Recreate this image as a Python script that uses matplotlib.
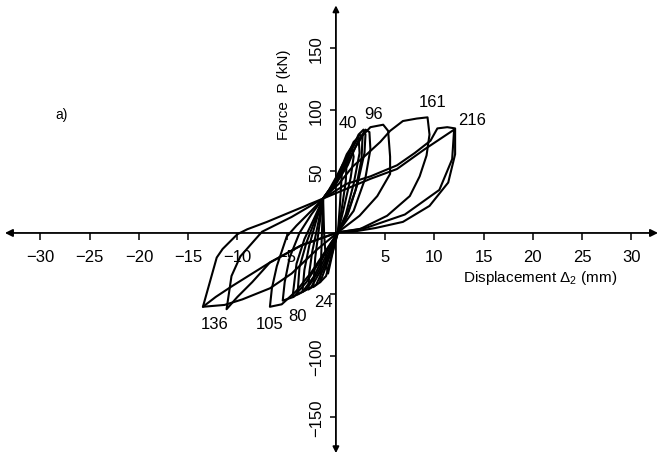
import numpy as np
import matplotlib; matplotlib.use("Agg")
import matplotlib.pyplot as plt

plt.rcParams['font.family'] = ['Liberation Sans', 'DejaVu Sans']
plt.rcParams['mathtext.fontset'] = 'custom'
plt.rcParams['mathtext.rm'] = 'Liberation Sans'
plt.rcParams['mathtext.it'] = 'Liberation Sans:italic'

# ---- data: hysteresis half-cycles, displacement (mm) / force (kN) ----
# positive half-cycles: origin -> positive peak -> back to the pinch point near (-1.3, 28)
pos_216_x = [0.2, 1.7, 4.0, 6.8, 9.5, 11.4, 12.1, 12.1, 11.3, 10.3, 9.6, 8.0, 6.2, 3.5, 1.1, -1.3]
pos_216_y = [0.5, 1.0, 4.0, 9.0, 22, 41, 64, 85, 86, 85, 75, 65, 55, 46, 40, 28]
pos_216b_x = [0.2, 3.0, 7.0, 10.5, 11.8, 12.0, 9.0, 6.2, 3.5, 1.7, -1.3]
pos_216b_y = [0.5, 4.0, 15, 35, 60, 84, 68, 52, 44, 38, 28]
pos_161_x = [0.2, 2.4, 5.2, 7.5, 8.5, 9.2, 9.5, 9.3, 8.2, 6.8, 5.5, 4.5, 3.0, 1.7, 0.3, -1.3]
pos_161_y = [0.5, 3.0, 14, 30, 46, 63, 80, 94, 93, 91, 83, 74, 63, 54, 40, 28]
pos_96_x = [0.2, 2.4, 4.2, 5.5, 5.5, 5.3, 4.8, 3.5, 2.8, 2.0, 1.0, 0.0, -1.3]
pos_96_y = [0.5, 14, 30, 48, 62, 83, 88, 86, 80, 70, 55, 40, 28]
pos_64_x = [0.2, 1.8, 3.0, 3.5, 3.4, 3.0, 2.2, 1.2, 0.0, -1.3]
pos_64_y = [0.5, 18, 45, 68, 82, 84, 74, 55, 40, 28]
pos_40_x = [0.2, 1.2, 2.2, 2.9, 3.0, 2.8, 2.3, 1.5, 0.5, -0.5, -1.3]
pos_40_y = [0.5, 15, 40, 65, 80, 84, 80, 66, 48, 36, 28]
pos_36_x = [0.2, 1.0, 2.0, 2.6, 2.7, 2.4, 1.6, 0.6, -0.4, -1.3]
pos_36_y = [0.5, 12, 35, 60, 78, 80, 68, 50, 38, 28]
pos_32_x = [0.2, 1.0, 1.8, 2.4, 2.3, 1.8, 1.0, 0.0, -1.3]
pos_32_y = [0.5, 15, 40, 65, 78, 74, 60, 42, 28]
pos_20_x = [0.2, 0.8, 1.5, 1.8, 1.6, 1.1, 0.4, -0.4, -1.3]
pos_20_y = [0.5, 20, 45, 62, 70, 64, 50, 38, 28]
pos_12_x = [0.2, 0.6, 1.0, 1.1, 0.7, 0.0, -0.7, -1.3]
pos_12_y = [0.5, 20, 42, 60, 56, 45, 35, 28]
pos_6_x = [0.2, 0.4, 0.6, 0.3, -0.4, -1.3]
pos_6_y = [0.5, 22, 48, 46, 36, 28]

# negative half-cycles: pinch point -> negative peak -> back to origin
neg_136_x = [-1.3, -4.0, -7.0, -9.0, -10.0, -11.5, -12.1, -12.8, -13.5, -11.3, -9.5, -6.7, -4.5, -2.0, 0.2]
neg_136_y = [28, 19, 9, 3, -1, -13, -20, -40, -60, -58.5, -54, -45, -33, -14, 0.5]
neg_125_x = [-1.3, -4.5, -7.5, -9.7, -10.6, -11.1, -10.0, -8.5, -6.7, -3.5, 0.2]
neg_125_y = [28, 13, 1, -19, -35, -62, -52, -40, -24, -10, 0.5]
neg_136b_x = [-13.5, -12.2, -10.5, -6.7, -3.5, 0.2]
neg_136b_y = [-60, -52, -43, -24, -10, 0.5]
neg_105_x = [-1.3, -2.5, -4.0, -5.0, -6.0, -6.5, -6.7, -5.5, -4.0, -2.5, -1.0, 0.2]
neg_105_y = [28, 18, 6, -3, -27, -45, -60, -58, -47, -32, -14, 0.5]
neg_90_x = [-1.3, -2.5, -3.7, -4.7, -5.2, -5.4, -4.3, -3.0, -1.8, -0.6, 0.2]
neg_90_y = [28, 15, 0, -20, -40, -55, -52, -40, -25, -10, 0.5]
neg_80_x = [-1.3, -2.2, -3.2, -4.0, -4.4, -3.4, -2.2, -1.2, 0.2]
neg_80_y = [28, 12, -5, -25, -52, -48, -35, -18, 0.5]
neg_70_x = [-1.3, -2.1, -3.0, -3.7, -3.9, -3.0, -1.9, -0.9, 0.2]
neg_70_y = [28, 11, -8, -28, -50, -46, -33, -17, 0.5]
neg_60_x = [-1.3, -2.0, -2.7, -3.2, -3.4, -2.5, -1.5, -0.6, 0.2]
neg_60_y = [28, 10, -10, -30, -48, -44, -30, -15, 0.5]
neg_50_x = [-1.3, -1.8, -2.4, -2.7, -2.8, -2.0, -1.2, 0.2]
neg_50_y = [28, 8, -15, -32, -46, -42, -28, 0.5]
neg_40_x = [-1.3, -1.7, -2.1, -2.3, -1.6, -0.9, 0.2]
neg_40_y = [28, 5, -20, -44, -40, -25, 0.5]
neg_24_x = [-1.3, -1.4, -1.5, -1.6, -1.0, -0.5, 0.2]
neg_24_y = [28, 5, -20, -40, -35, -20, 0.5]
neg_10_x = [-1.3, -1.2, -1.0, -0.8, -0.3, 0.2]
neg_10_y = [28, 0, -25, -33, -15, 0.5]

loops = [(pos_216_x, pos_216_y), (pos_216b_x, pos_216b_y), (pos_161_x, pos_161_y),
         (pos_96_x, pos_96_y), (pos_64_x, pos_64_y), (pos_40_x, pos_40_y),
         (pos_36_x, pos_36_y), (pos_32_x, pos_32_y), (pos_20_x, pos_20_y),
         (pos_12_x, pos_12_y), (pos_6_x, pos_6_y),
         (neg_136_x, neg_136_y), (neg_125_x, neg_125_y), (neg_136b_x, neg_136b_y),
         (neg_105_x, neg_105_y), (neg_90_x, neg_90_y), (neg_80_x, neg_80_y),
         (neg_70_x, neg_70_y), (neg_60_x, neg_60_y), (neg_50_x, neg_50_y),
         (neg_40_x, neg_40_y), (neg_24_x, neg_24_y), (neg_10_x, neg_10_y)]

# cycle numbers written next to the peaks
cycle_labels = ["40", "96", "161", "216", "136", "105", "80", "24"]
cycle_x = [1.2, 3.8, 9.8, 13.8, -12.3, -6.7, -3.9, -1.3]
cycle_y = [90, 97.5, 106.5, 92, -74, -74, -67.5, -56]

x_ticks = [-30, -25, -20, -15, -10, -5, 5, 10, 15, 20, 25, 30]
x_ticklabels = ["\u221230", "\u221225", "\u221220", "\u221215", "\u221210", "\u22125",
                "5", "10", "15", "20", "25", "30"]
y_ticks = [150, 100, 50, -50, -100, -150]
y_ticklabels = ["150", "100", "50", "", "\u2212100", "\u2212150"]

# ---- plot ----
fig = plt.figure(figsize=(6.61, 4.56), dpi=100)
ax = fig.add_axes([0, 0, 1, 1])
ax.set_xlim(-34.1, 33.0); ax.set_ylim(-180.5, 190.2)

for xs, ys in loops:
    ax.plot(xs, ys, color="k", lw=1.5, solid_joinstyle="round", solid_capstyle="round")

# axes drawn as crossing arrows through the origin
for side in ["top", "right"]:
    ax.spines[side].set_visible(False)
ax.spines["bottom"].set_position(("data", 0)); ax.spines["bottom"].set_visible(False)
ax.spines["left"].set_position(("data", 0)); ax.spines["left"].set_visible(False)
ax.annotate("", xy=(32.7, 0), xytext=(-33.6, 0),
            arrowprops=dict(arrowstyle="<|-|>", color="k", lw=1.3, mutation_scale=11, shrinkA=0, shrinkB=0))
ax.annotate("", xy=(0, 185), xytext=(0, -179),
            arrowprops=dict(arrowstyle="<|-|>", color="k", lw=1.3, mutation_scale=9, shrinkA=0, shrinkB=0))

ax.set_xticks(x_ticks); ax.set_xticklabels(x_ticklabels)
ax.set_yticks(y_ticks); ax.set_yticklabels(y_ticklabels, rotation=90, va="center")
ax.tick_params(axis="x", direction="out", length=5, width=1.1, pad=6.5, labelsize=12)
ax.tick_params(axis="y", direction="out", length=4, width=1.1, pad=4.5, labelsize=12)

for lab, cx, cy in zip(cycle_labels, cycle_x, cycle_y):
    ax.text(cx, cy, lab, ha="center", va="center", fontsize=12)

ax.text(-5.3, 113, "Force  P (kN)", rotation=90, ha="center", va="center", fontsize=11)
ax.text(12.9, -36, r"Displacement $\Delta_2$ (mm)", ha="left", va="center", fontsize=11)
ax.text(-27.8, 96.7, "a)", ha="center", va="center", fontsize=10)

fig.savefig("out.png", dpi=100)
